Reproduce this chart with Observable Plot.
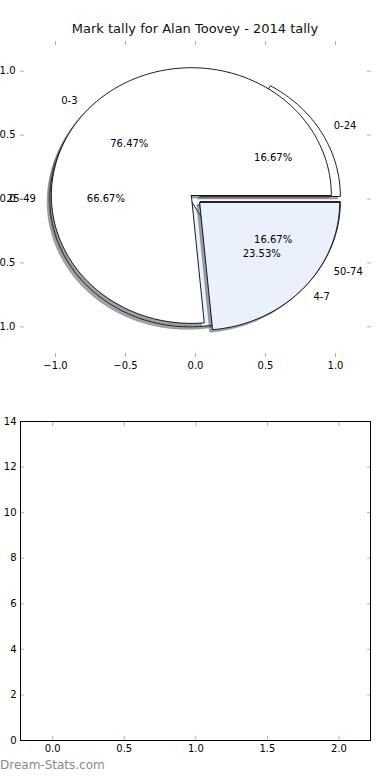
<!DOCTYPE html>
<html><head><meta charset="utf-8">
<script src="https://cdn.jsdelivr.net/npm/d3@7"></script>
<script src="https://cdn.jsdelivr.net/npm/@observablehq/plot@0.6"></script>
<style>
body{margin:0;background:white;}
#wrap{position:relative;width:390px;height:780px;overflow:hidden;font-family:"DejaVu Sans",sans-serif;background:white;}
#topchart{position:absolute;left:0;top:0;}
#bottomchart{position:absolute;left:0;top:390px;}
#title{position:absolute;top:21px;left:0;width:390px;text-align:center;font-size:13px;line-height:16px;color:#111;}
#credit{position:absolute;left:0;top:758px;font-size:12px;line-height:14px;color:#8a8a8a;}
</style></head>
<body><div id="wrap"><div id="topchart"></div><div id="bottomchart"></div><div id="title"></div><div id="credit"></div></div>
<script>
const chartTitle = "Mark tally for Alan Toovey - 2014 tally";
const creditText = "Dream-Stats.com";
// pie 1: mark tally
const markLabels = ["0-3", "4-7"];
const markValues = [13, 4];
const markExplode = [0.04, 0.04];
const markColors = ["white", "#eaf0fc"];
// pie 2: range tally
const rangeLabels = ["0-24", "25-49", "50-74"];
const rangeValues = [1, 4, 1];
const rangeExplode = [0.04, 0.04, 0.04];
const rangeColors = ["white", "#eaf0fc", "white"];
// axes
const pieXLimits = [-1.25, 1.25];
const pieYLimits = [-1.24, 1.24];
const pieTicks = [-1, -0.5, 0, 0.5, 1];
const barXLimits = [-0.225, 2.22];
const barYLimits = [0, 14];
const barXTicks = [0, 0.5, 1, 1.5, 2];
const barYTicks = [0, 2, 4, 6, 8, 10, 12, 14];

document.getElementById("title").textContent = chartTitle;
document.getElementById("credit").textContent = creditText;

function shade(c) {
  const r = d3.rgb(c);
  return d3.rgb(r.r * 0.3, r.g * 0.3, r.b * 0.3).formatHex();
}

function pieWedges(values, explode, labels, colors, key) {
  const total = d3.sum(values);
  let a = 0;
  return values.map((v, i) => {
    const t1 = a, t2 = a + v / total * 2 * Math.PI; a = t2;
    const m = (t1 + t2) / 2;
    const cx = explode[i] * Math.cos(m), cy = explode[i] * Math.sin(m);
    const n = Math.max(2, Math.ceil((t2 - t1) / (Math.PI / 180)));
    const pts = [{x: cx, y: cy}];
    for (let k = 0; k <= n; k++) {
      const t = t1 + (t2 - t1) * k / n;
      pts.push({x: cx + Math.cos(t), y: cy + Math.sin(t)});
    }
    pts.push({x: cx, y: cy});
    return {
      key: key + i, pts, color: colors[i],
      label: labels[i], lx: cx + 1.1 * Math.cos(m), ly: cy + 1.1 * Math.sin(m),
      pct: (100 * v / total).toFixed(2) + "%", px: cx + 0.6 * Math.cos(m), py: cy + 0.6 * Math.sin(m)
    };
  });
}

const rangeW = pieWedges(rangeValues, rangeExplode, rangeLabels, rangeColors, "r");
const markW = pieWedges(markValues, markExplode, markLabels, markColors, "m");

const wedgeMarks = [];
for (const w of [...rangeW, ...markW]) {
  const sh = shade(w.color);
  wedgeMarks.push(Plot.line(w.pts.map(p => ({x: p.x - 0.02, y: p.y - 0.02})), {
    x: "x", y: "y", fill: sh, fillOpacity: 0.5, stroke: sh, strokeOpacity: 0.35, strokeWidth: 0.8
  }));
  wedgeMarks.push(Plot.line(w.pts, {
    x: "x", y: "y", fill: w.color, stroke: "black", strokeWidth: 0.9
  }));
}
const allW = [...rangeW, ...markW];

const tickGray = "#b0b0b0";
const fmt1 = d3.format(".1f");

const pieChart = Plot.plot({
  width: 390, height: 390,
  marginTop: 40, marginBottom: 33, marginLeft: 20, marginRight: 20,
  style: {fontFamily: "DejaVu Sans", fontSize: "10px", background: "white", color: "black"},
  x: {domain: pieXLimits},
  y: {domain: pieYLimits},
  marks: [
    ...wedgeMarks,
    Plot.text(allW.filter(d => d.lx >= 0), {x: "lx", y: "ly", text: "label", textAnchor: "start", fill: "black", fontSize: 10}),
    Plot.text(allW.filter(d => d.lx < 0), {x: "lx", y: "ly", text: "label", textAnchor: "end", fill: "black", fontSize: 10}),
    Plot.text(allW, {x: "px", y: "py", text: "pct", textAnchor: "middle", fill: "black", fontSize: 10}),
    Plot.axisX(pieTicks, {anchor: "bottom", tickSize: -4, stroke: tickGray, tickFormat: () => ""}),
    Plot.axisX(pieTicks, {anchor: "top", tickSize: -4, stroke: tickGray, tickFormat: () => ""}),
    Plot.axisY(pieTicks, {anchor: "left", tickSize: -4, stroke: tickGray, tickFormat: () => ""}),
    Plot.axisY(pieTicks, {anchor: "right", tickSize: -4, stroke: tickGray, tickFormat: () => ""}),
    Plot.axisX(pieTicks, {anchor: "bottom", tickSize: 0, tickPadding: 4, tickFormat: fmt1, label: null, fill: "black"}),
    Plot.axisY(pieTicks, {anchor: "left", tickSize: 0, tickPadding: 5, tickFormat: fmt1, label: null, fill: "black"})
  ]
});
document.getElementById("topchart").appendChild(pieChart);

const barChart = Plot.plot({
  width: 390, height: 390,
  marginTop: 31, marginBottom: 40, marginLeft: 20, marginRight: 20,
  style: {fontFamily: "DejaVu Sans", fontSize: "10px", background: "white", color: "black"},
  x: {domain: barXLimits},
  y: {domain: barYLimits},
  marks: [
    Plot.axisX(barXTicks, {anchor: "bottom", tickSize: -4, stroke: tickGray, tickFormat: () => ""}),
    Plot.axisX(barXTicks, {anchor: "top", tickSize: -4, stroke: tickGray, tickFormat: () => ""}),
    Plot.axisY(barYTicks, {anchor: "left", tickSize: -4, stroke: tickGray, tickFormat: () => ""}),
    Plot.axisY(barYTicks, {anchor: "right", tickSize: -4, stroke: tickGray, tickFormat: () => ""}),
    Plot.frame({stroke: "black", strokeWidth: 1}),
    Plot.axisX(barXTicks, {anchor: "bottom", tickSize: 0, tickPadding: 4, tickFormat: fmt1, label: null, fill: "black"}),
    Plot.axisY(barYTicks, {anchor: "left", tickSize: 0, tickPadding: 4, tickFormat: d => String(d), label: null, fill: "black"})
  ]
});
document.getElementById("bottomchart").appendChild(barChart);
</script>
</body></html>
